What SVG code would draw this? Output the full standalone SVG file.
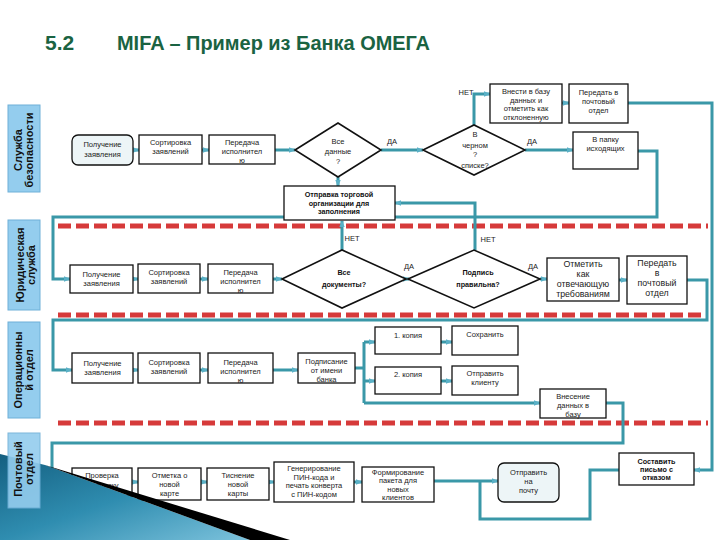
<svg xmlns="http://www.w3.org/2000/svg" width="720" height="540" viewBox="0 0 720 540">
<defs>
<style>
.box{fill:#fff;stroke:#111;stroke-width:1.3}
.rbox{fill:#edf5f7;stroke:#111;stroke-width:1.3}
.dia{fill:#fff;stroke:#111;stroke-width:1.6}
.t{font-family:"Liberation Sans",Arial,sans-serif;font-size:7.5px;fill:#222;text-anchor:middle}
.tb{font-family:"Liberation Sans",Arial,sans-serif;font-size:7.2px;font-weight:bold;fill:#111;text-anchor:middle}
.tl{font-family:"Liberation Sans",Arial,sans-serif;font-size:8.8px;fill:#222;text-anchor:middle}
.lane{fill:#94cdee;stroke:#6fb0d8;stroke-width:1}
.lt{font-family:"Liberation Sans",Arial,sans-serif;font-size:11px;font-weight:bold;fill:#111;text-anchor:middle}
.sep{stroke:#d63a3a;stroke-width:5;stroke-dasharray:13 5;fill:none}
.c{fill:none;stroke:#3a98a8;stroke-width:3;stroke-linejoin:miter}
.ca{fill:none;stroke:#3a98a8;stroke-width:3;marker-end:url(#a)}
</style>
<marker id="a" viewBox="0 0 10 10" refX="9" refY="5" markerWidth="7" markerHeight="7" markerUnits="userSpaceOnUse" orient="auto"><path d="M0,1 L10,5 L0,9 z" fill="#5ab0c6"/></marker>
<linearGradient id="g" x1="0" y1="0" x2="1" y2="1"><stop offset="0" stop-color="#145f80"/><stop offset="0.5" stop-color="#2f8db0"/><stop offset="1" stop-color="#7cc2dc"/></linearGradient>
</defs>
<rect width="720" height="540" fill="#fff"/>
<g id="title">
<text x="45" y="50" font-family="Liberation Sans,Arial,sans-serif" font-size="21" font-weight="bold" fill="#1a6342">5.2</text>
<text x="117" y="50" font-family="Liberation Sans,Arial,sans-serif" font-size="21" font-weight="bold" fill="#1a6342" textLength="313" lengthAdjust="spacingAndGlyphs">MIFA – Пример из Банка ОМЕГА</text>
</g>
<g id="separators">
<line class="sep" x1="58" y1="226" x2="708" y2="226"/>
<line class="sep" x1="58" y1="315" x2="708" y2="315"/>
<line class="sep" x1="58" y1="423" x2="708" y2="423"/>
</g>
<g id="connectors">
<path class="ca" d="M133,150 H139"/>
<path class="ca" d="M202,150 H209"/>
<path class="ca" d="M275,150 H295"/>
<path class="ca" d="M381,150 H423"/>
<path class="ca" d="M525,150 H573"/>
<path class="ca" d="M474,125 V94 H490"/>
<path class="ca" d="M562,103 H569"/>
<path class="ca" d="M628,103 H712 V470 H694"/>
<path class="ca" d="M638,151 H657 V217 H53 V279 H70"/>
<path class="ca" d="M338,177 V186"/>
<path class="ca" d="M475,250 V203 H395"/>
<path class="ca" d="M342,250 V221"/>
<path class="ca" d="M133,279 H138"/>
<path class="ca" d="M200,279 H208"/>
<path class="ca" d="M273,279 H282"/>
<path class="ca" d="M400,279 H409"/>
<path class="ca" d="M540,279 H547"/>
<path class="ca" d="M619,280 H627"/>
<path class="ca" d="M687,280 H707 V320 H53 V370 H72"/>
<path class="ca" d="M133,370 H138"/>
<path class="ca" d="M200,370 H208"/>
<path class="ca" d="M273,370 H298"/>
<path class="c" d="M355,368 H364 M364,342 V403"/>
<path class="ca" d="M364,342 H375"/>
<path class="ca" d="M364,381 H375"/>
<path class="ca" d="M364,403 H540"/>
<path class="ca" d="M441,342 H452"/>
<path class="ca" d="M441,381 H452"/>
<path class="ca" d="M606,403 H623 V443 H52 V482 H72"/>
<path class="ca" d="M132,482 H138"/>
<path class="ca" d="M201,482 H207"/>
<path class="ca" d="M269,482 H274"/>
<path class="ca" d="M354,482 H362"/>
<path class="ca" d="M434,481 H498"/>
<path class="c" d="M619,470 H590 V519 H480 V481"/>
</g>
<g id="n1"><rect class="rbox" x="72" y="135" width="61" height="30" rx="6"/><text class="t" x="102.5" y="147">Получение</text><text class="t" x="102.5" y="157">заявления</text></g>
<g id="n2"><rect class="box" x="139" y="135" width="63" height="29"/><text class="t" x="170.5" y="145">Сортировка</text><text class="t" x="170.5" y="154">заявлений</text></g>
<g id="n3"><rect class="box" x="209" y="135" width="66" height="29"/><text class="t" x="242" y="145">Передача</text><text class="t" x="242" y="154">исполнител</text><text class="t" x="242" y="163">ю</text></g>
<g id="d1"><polygon class="dia" points="295,150 338,123 381,150 338,177"/><text class="t" x="338" y="144">Все</text><text class="t" x="338" y="154">данные</text><text class="t" x="338" y="164">?</text></g>
<g id="lbl1"><text class="t" x="392" y="144">ДА</text><text class="t" x="532" y="144">ДА</text><text class="t" x="466" y="95">НЕТ</text></g>
<g id="d2"><polygon class="dia" points="423,150 474,125 525,150 474,175"/><text class="t" x="475" y="137">В</text><text class="t" x="475" y="147.5">черном</text><text class="t" x="475" y="157">?</text><text class="t" x="475" y="168">списке?</text></g>
<g id="n4"><rect class="box" x="490" y="84" width="72" height="39"/><text class="t" x="526" y="94">Внести в базу</text><text class="t" x="526" y="102.7">данных и</text><text class="t" x="526" y="111.4">отметить как</text><text class="t" x="526" y="120">отклоненную</text></g>
<g id="n5"><rect class="box" x="569" y="84" width="59" height="39"/><text class="t" x="598.5" y="95">Передать в</text><text class="t" x="598.5" y="104">почтовый</text><text class="t" x="598.5" y="113">отдел</text></g>
<g id="n6"><rect class="box" x="573" y="132" width="65" height="37"/><text class="t" x="605.5" y="142">В папку</text><text class="t" x="605.5" y="151">исходящих</text></g>
<g id="n7"><rect class="box" x="284" y="186" width="111" height="34"/><text class="tb" x="339" y="197">Отправка торговой</text><text class="tb" x="339" y="205.5">организации для</text><text class="tb" x="339" y="214">заполнения</text></g>
<g id="n8"><rect class="box" x="70" y="265" width="63" height="28"/><text class="t" x="101.5" y="277">Получение</text><text class="t" x="101.5" y="286">заявления</text></g>
<g id="n9"><rect class="box" x="138" y="264" width="62" height="29"/><text class="t" x="169" y="275">Сортировка</text><text class="t" x="169" y="284">заявлений</text></g>
<g id="n10"><rect class="box" x="208" y="264" width="65" height="29"/><text class="t" x="240.5" y="275">Передача</text><text class="t" x="240.5" y="284">исполнител</text><text class="t" x="240.5" y="293">ю</text></g>
<g id="d3"><polygon class="dia" points="282,279 342,250 406,279 342,308"/><text class="tb" x="344" y="275">Все</text><text class="tb" x="344" y="287">документы?</text></g>
<g id="d4"><polygon class="dia" points="408,279 474,250 540,279 474,308"/><text class="tb" x="478" y="275">Подпись</text><text class="tb" x="478" y="287">правильна?</text></g>
<g id="lbl2"><text class="t" x="409" y="269">ДА</text><text class="t" x="533" y="269">ДА</text><text class="t" x="488" y="242">НЕТ</text><text class="t" x="352" y="241">НЕТ</text></g>
<g id="n11"><rect class="box" x="547" y="258" width="72" height="43"/><text class="tl" x="583" y="267">Отметить</text><text class="tl" x="583" y="277">как</text><text class="tl" x="583" y="287">отвечающую</text><text class="tl" x="583" y="297">требованиям</text></g>
<g id="n12"><rect class="box" x="627" y="256" width="60" height="48"/><text class="tl" x="657" y="266">Передать</text><text class="tl" x="657" y="276">в</text><text class="tl" x="657" y="286">почтовый</text><text class="tl" x="657" y="296">отдел</text></g>
<g id="n13"><rect class="box" x="72" y="353" width="61" height="30"/><text class="t" x="102.5" y="366">Получение</text><text class="t" x="102.5" y="375">заявления</text></g>
<g id="n14"><rect class="box" x="138" y="353" width="62" height="30"/><text class="t" x="169" y="365">Сортировка</text><text class="t" x="169" y="374">заявлений</text></g>
<g id="n15"><rect class="box" x="208" y="353" width="65" height="30"/><text class="t" x="240.5" y="365">Передача</text><text class="t" x="240.5" y="374">исполнител</text><text class="t" x="240.5" y="383">ю</text></g>
<g id="n16"><rect class="box" x="298" y="353" width="57" height="30"/><text class="t" x="326.5" y="364">Подписание</text><text class="t" x="326.5" y="373">от имени</text><text class="t" x="326.5" y="382">банка</text></g>
<g id="n17"><rect class="box" x="375" y="327" width="66" height="27"/><text class="t" x="408" y="338">1. копия</text></g>
<g id="n18"><rect class="box" x="452" y="326" width="66" height="29"/><text class="t" x="485" y="337">Сохранить</text></g>
<g id="n19"><rect class="box" x="375" y="367" width="66" height="27"/><text class="t" x="408" y="377">2. копия</text></g>
<g id="n20"><rect class="box" x="452" y="366" width="66" height="29"/><text class="t" x="485" y="376">Отправить</text><text class="t" x="485" y="385">клиенту</text></g>
<g id="n21"><rect class="box" x="540" y="389" width="66" height="29"/><text class="t" x="573" y="399">Внесение</text><text class="t" x="573" y="408">данных в</text><text class="t" x="573" y="417">базу</text></g>
<g id="n22"><rect class="box" x="72" y="468" width="60" height="28"/><text class="t" x="102" y="478">Проверка</text><text class="t" x="102" y="488">по списку</text></g>
<g id="n23"><rect class="box" x="138" y="468" width="63" height="32"/><text class="t" x="169.5" y="478">Отметка о</text><text class="t" x="169.5" y="487">новой</text><text class="t" x="169.5" y="496">карте</text></g>
<g id="n24"><rect class="box" x="207" y="468" width="62" height="32"/><text class="t" x="238" y="478">Тиснение</text><text class="t" x="238" y="487">новой</text><text class="t" x="238" y="496">карты</text></g>
<g id="n25"><rect class="box" x="274" y="462" width="80" height="40"/><text class="t" x="314" y="471">Генерирование</text><text class="t" x="314" y="479.7">ПИН-кода и</text><text class="t" x="314" y="488.4">печать конверта</text><text class="t" x="314" y="497">с ПИН-кодом</text></g>
<g id="n26"><rect class="box" x="362" y="467" width="72" height="35"/><text class="t" x="398" y="474.5">Формирование</text><text class="t" x="398" y="483">пакета для</text><text class="t" x="398" y="491.5">новых</text><text class="t" x="398" y="500">клиентов</text></g>
<g id="n27"><rect class="rbox" x="498" y="463" width="61" height="39" rx="6"/><text class="t" x="528.5" y="475">Отправить</text><text class="t" x="528.5" y="484">на</text><text class="t" x="528.5" y="493">почту</text></g>
<g id="n28"><rect class="box" x="619" y="453" width="75" height="32"/><text class="tb" x="656.5" y="463.5">Составить</text><text class="tb" x="656.5" y="471.8">письмо с</text><text class="tb" x="656.5" y="480">отказом</text></g>
<g id="decor">
<polygon points="0,454 45,465 250,540 0,540" fill="url(#g)"/>
<polygon points="45,465 290,540 250,540" fill="#000"/>
</g>
<g id="lanes">
<g id="lane1"><rect class="lane" x="8" y="105" width="32" height="87"/><text class="lt" transform="translate(0,150) rotate(-90)"><tspan x="0" y="22">Служба</tspan><tspan x="0" y="33">безопасности</tspan></text></g>
<g id="lane2"><rect class="lane" x="8" y="220" width="32" height="90"/><text class="lt" transform="translate(0,265) rotate(-90)"><tspan x="0" y="24">Юридическая</tspan><tspan x="0" y="35">служба</tspan></text></g>
<g id="lane3"><rect class="lane" x="8" y="322" width="32" height="96"/><text class="lt" transform="translate(0,370) rotate(-90)"><tspan x="0" y="22">Операционны</tspan><tspan x="0" y="33">й отдел</tspan></text></g>
<g id="lane4"><rect class="lane" x="8" y="433" width="32" height="75" opacity="0.9"/><text class="lt" transform="translate(0,469) rotate(-90)"><tspan x="0" y="22">Почтовый</tspan><tspan x="0" y="33">отдел</tspan></text></g>
</g>
</svg>
